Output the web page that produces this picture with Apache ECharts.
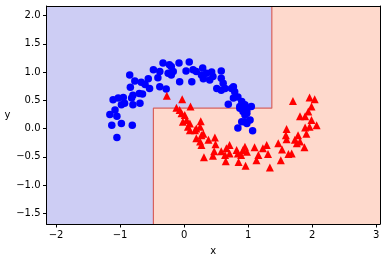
<!DOCTYPE html>
<html>
<head>
<meta charset="utf-8">
<script src="https://cdn.jsdelivr.net/npm/echarts@6/dist/echarts.min.js"></script>
<style>html,body{margin:0;padding:0;background:#fff;}#c{width:387px;height:262px;}</style>
</head>
<body>
<div id="c"></div>
<script>
// Axis ranges and ticks
const xRange = [-2.15, 3.06];
const yRange = [-1.69, 2.17];
const xTicks = [-2, -1, 0, 1, 2, 3];
const yTicks = [-1.5, -1.0, -0.5, 0.0, 0.5, 1.0, 1.5, 2.0];

// Decision-tree split values
const splitX1 = -0.48;
const splitY = 0.36;
const splitX2 = 1.37;

// Class 0 (blue circles)
const class0 = [
  [-0.33,1.16],[-0.23,1.13],[-0.48,1.04],[-0.38,1.01],[-0.25,0.98],[-0.20,0.95],
  [-0.85,0.95],[-0.77,0.84],[-0.67,0.82],[-0.56,0.88],[-0.61,0.78],[-0.41,0.90],
  [-0.38,0.74],[-0.28,0.70],[-0.54,0.71],[-0.84,0.73],[-0.70,0.62],[-0.80,0.59],
  [-0.65,0.61],[-1.11,0.51],[-1.03,0.54],[-0.95,0.55],[-0.93,0.45],[-0.82,0.54],
  [-0.80,0.42],[-0.69,0.45],[-0.98,0.42],[-1.08,0.33],[-1.16,0.25],[-1.05,0.22],
  [-0.98,0.09],[-1.13,0.06],[-0.81,0.06],[-1.05,-0.16],[-0.08,1.16],[0.08,1.18],
  [-0.07,0.83],[-0.20,1.10],[-0.17,1.01],[0.03,1.02],[0.14,1.04],[0.19,1.01],
  [0.29,1.07],[0.27,0.95],[0.35,0.98],[0.43,1.00],[0.45,0.92],[0.58,1.02],
  [0.58,0.89],[0.30,0.88],[0.12,0.83],[0.40,0.86],[0.61,0.80],[0.64,0.71],
  [0.51,0.71],[0.58,0.68],[0.74,0.71],[0.79,0.65],[0.84,0.56],[0.77,0.54],
  [0.90,0.48],[0.95,0.42],[0.69,0.43],[0.98,0.33],[0.87,0.39],[0.77,0.74],
  [0.87,0.36],[0.95,0.24],[1.03,0.15],[0.90,0.12],[0.84,0.01],[1.07,-0.04],
  [0.92,0.30],[1.05,0.39],[0.98,0.27],[0.95,0.12],[0.98,0.09]
];

// Class 1 (red triangles)
const class1 = [
  [-0.27,0.58],[-0.03,0.52],[0.10,0.39],[-0.12,0.37],[-0.07,0.33],[-0.04,0.27],
  [0.01,0.24],[0.04,0.15],[0.06,0.03],[0.09,-0.03],[0.19,0.00],[0.25,0.03],
  [0.26,0.13],[0.30,-0.09],[0.19,-0.17],[0.25,-0.23],[0.27,-0.29],[0.38,-0.20],
  [0.48,-0.16],[0.49,-0.28],[0.47,-0.40],[0.45,-0.48],[0.31,-0.51],[0.58,-0.40],
  [0.64,-0.47],[0.65,-0.58],[0.71,-0.29],[0.82,-0.38],[0.92,-0.38],[0.89,-0.47],
  [0.85,-0.59],[0.96,-0.66],[0.66,-0.35],[1.70,0.49],[1.96,0.55],[2.04,0.52],
  [1.99,0.39],[1.94,0.30],[1.81,0.22],[1.89,0.22],[1.99,0.15],[2.07,0.06],
  [1.96,0.03],[1.89,0.02],[1.91,-0.09],[1.60,-0.01],[1.60,-0.19],[1.78,-0.12],
  [1.73,-0.20],[1.81,-0.23],[1.88,-0.33],[1.47,-0.26],[1.53,-0.37],[1.68,-0.44],
  [1.63,-0.45],[1.29,-0.29],[1.23,-0.35],[1.31,-0.45],[1.10,-0.33],[1.16,-0.47],
  [1.13,-0.56],[0.98,-0.41],[1.51,-0.56],[1.34,-0.69],[1.59,-0.12],[1.76,-0.26],
  [0.95,-0.32],[0.84,-0.44],[0.71,-0.44],[0.27,-0.12],[0.17,-0.03],[0.09,0.09],
  [-0.02,0.12]
];

// Region polygons derived from split values
const bluePolygon = [
  [xRange[0], yRange[0]], [splitX1, yRange[0]], [splitX1, splitY],
  [splitX2, splitY], [splitX2, yRange[1]], [xRange[0], yRange[1]]
];
const redPolygon = [
  [splitX1, yRange[0]], [xRange[1], yRange[0]], [xRange[1], yRange[1]],
  [splitX2, yRange[1]], [splitX2, splitY], [splitX1, splitY]
];
const boundary = [
  [splitX1, yRange[0]], [splitX1, splitY], [splitX2, splitY], [splitX2, yRange[1]]
];

const fontFamily = 'DejaVu Sans';
function fmtNum(v, d) {
  return (v < 0 ? '\u2212' : '') + Math.abs(v).toFixed(d);
}
function polyRender(poly, color) {
  return function (params, api) {
    return {
      type: 'polygon',
      shape: { points: poly.map(p => api.coord(p)) },
      style: { fill: color }
    };
  };
}

const chart = echarts.init(document.getElementById('c'), null, { renderer: 'canvas' });
const axisCommon = {
  axisLine: { show: true, onZero: false, lineStyle: { color: '#000', width: 1 } },
  splitLine: { show: false },
  z: 10
};
chart.setOption({
  animation: false,
  backgroundColor: '#fff',
  grid: { left: 46.5, right: 7, top: 6, bottom: 38, containLabel: false },
  xAxis: [
    Object.assign({}, axisCommon, {
      type: 'value', min: xRange[0], max: xRange[1], position: 'bottom',
      name: 'x', nameLocation: 'middle', nameGap: 22,
      nameTextStyle: { fontFamily, fontSize: 10, color: '#000' },
      axisTick: { show: true, inside: false, length: 3.5, customValues: xTicks, lineStyle: { color: '#000' } },
      axisLabel: { show: true, margin: 6, customValues: xTicks, fontFamily, fontSize: 10, color: '#000',
        formatter: v => fmtNum(v, 0) }
    }),
    Object.assign({}, axisCommon, {
      type: 'value', min: xRange[0], max: xRange[1], position: 'top',
      axisTick: { show: false }, axisLabel: { show: false }
    })
  ],
  yAxis: [
    Object.assign({}, axisCommon, {
      type: 'value', min: yRange[0], max: yRange[1], position: 'left',
      name: 'y', nameLocation: 'middle', nameGap: 31, nameRotate: 0,
      nameTextStyle: { fontFamily, fontSize: 10, color: '#000', padding: [0, 0, 6, 0] },
      axisTick: { show: true, inside: false, length: 3.5, customValues: yTicks, lineStyle: { color: '#000' } },
      axisLabel: { show: true, margin: 6, customValues: yTicks, fontFamily, fontSize: 10, color: '#000',
        formatter: v => fmtNum(v, 1) }
    }),
    Object.assign({}, axisCommon, {
      type: 'value', min: yRange[0], max: yRange[1], position: 'right',
      axisTick: { show: false }, axisLabel: { show: false }
    })
  ],
  series: [
    {
      type: 'custom', renderItem: polyRender(bluePolygon, '#cdcdf4'), data: [[xRange[0], yRange[0]]],
      clip: true, z: 1, silent: true
    },
    {
      type: 'custom', renderItem: polyRender(redPolygon, '#fed9cc'), data: [[xRange[1], yRange[1]]],
      clip: true, z: 1, silent: true
    },
    {
      type: 'line', data: boundary, symbol: 'none', z: 2, silent: true,
      lineStyle: { color: '#d8615c', width: 1.2 }
    },
    {
      type: 'scatter', data: class0, symbol: 'circle', symbolSize: 7.5, z: 3,
      itemStyle: { color: '#0000ff', opacity: 1 }
    },
    {
      type: 'scatter', data: class1, symbol: 'triangle', symbolSize: 8, z: 4,
      itemStyle: { color: '#ff0000', opacity: 1 }
    }
  ]
});
</script>
</body>
</html>
